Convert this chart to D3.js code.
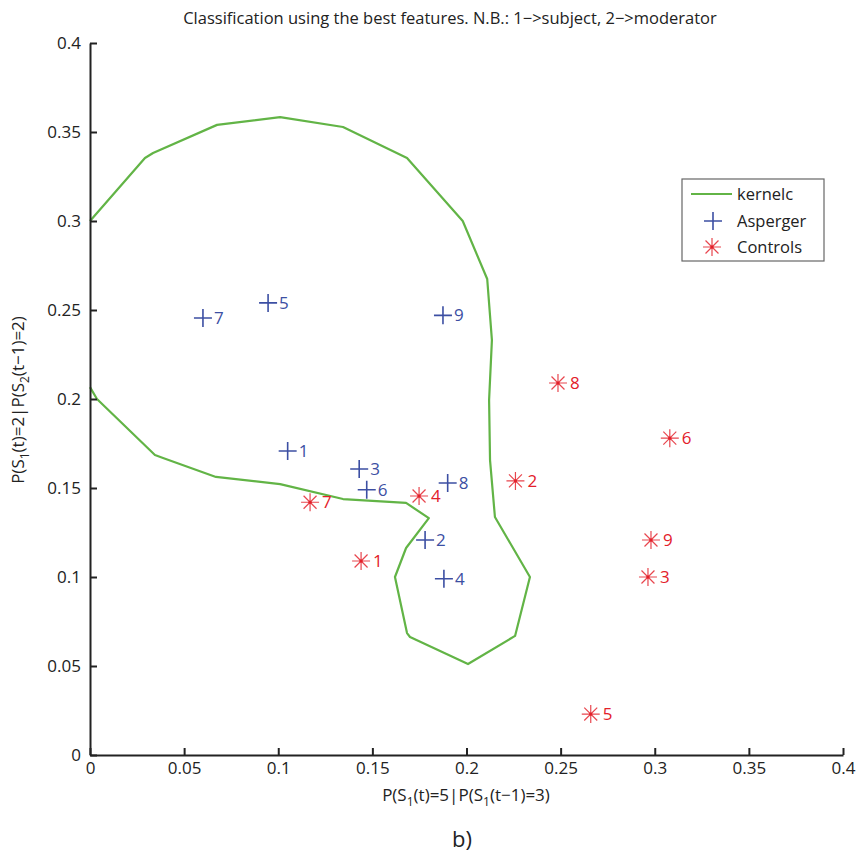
<!DOCTYPE html>
<html>
<head>
<meta charset="utf-8">
<script src="https://cdn.jsdelivr.net/npm/d3@7"></script>
<style>
  body { margin: 0; background: #fff; }
  svg text { font-family: "Open Sans", "DejaVu Sans", sans-serif; }
</style>
</head>
<body>
<div class="plot"></div>
<script>
// data
let xTicks = [0, 0.05, 0.1, 0.15, 0.2, 0.25, 0.3, 0.35, 0.4];
let yTicks = [0, 0.05, 0.1, 0.15, 0.2, 0.25, 0.3, 0.35, 0.4];

let aspergerIds = [1, 2, 3, 4, 5, 6, 7, 8, 9];
let aspergerX = [0.105, 0.178, 0.143, 0.188, 0.0946, 0.147, 0.06, 0.19, 0.1875];
let aspergerY = [0.1708, 0.1208, 0.1607, 0.099, 0.254, 0.149, 0.2455, 0.1528, 0.247];

let controlIds = [1, 2, 3, 4, 5, 6, 7, 8, 9];
let controlX = [0.144, 0.226, 0.2964, 0.1748, 0.266, 0.308, 0.1169, 0.2486, 0.298];
let controlY = [0.109, 0.154, 0.1, 0.1455, 0.023, 0.178, 0.142, 0.209, 0.1208];

// kernel classifier boundary (contour, clipped at x=0)
let kernelX = [0, 0.0292, 0.0335, 0.0675, 0.101, 0.1344, 0.1684, 0.198, 0.211, 0.2135,
               0.212, 0.2125, 0.2151, 0.2337, 0.2258, 0.2008, 0.170, 0.1684, 0.162, 0.1679,
               0.180, 0.1679, 0.1344, 0.101, 0.0669, 0.0388, 0.0345, 0.0037, 0];
let kernelY = [0.300, 0.3354, 0.3382, 0.354, 0.3584, 0.3528, 0.3354, 0.300, 0.2674, 0.2331,
               0.1994, 0.1657, 0.1337, 0.100, 0.0669, 0.0511, 0.0663, 0.0685, 0.100, 0.1163,
               0.1331, 0.1416, 0.1438, 0.1522, 0.1562, 0.1669, 0.1685, 0.200, 0.2067];

let width = 860, height = 860;
let plotLeft = 90, plotRight = 843, plotTop = 43, plotBottom = 755;
let GREEN = "#62b446", BLUE = "#3c4fa3", RED_MARK = "#e8464e", RED_TEXT = "#e3202a";

let xScale = d3.scaleLinear().domain([0, 0.4]).range([plotLeft, plotRight]);
let yScale = d3.scaleLinear().domain([0, 0.4]).range([plotBottom, plotTop]);

let svg = d3.select(".plot").append("svg")
    .attr("width", width)
    .attr("height", height);

function fmt(d) { return String(+d.toFixed(2)); }

function renderAxes() {
    let xAxis = d3.axisBottom(xScale).tickValues(xTicks).tickSize(-7).tickSizeOuter(0)
        .tickPadding(7).tickFormat(fmt);
    let gx = svg.append("g").attr("transform", "translate(0," + plotBottom + ")").call(xAxis);

    let yAxis = d3.axisLeft(yScale).tickValues(yTicks).tickSize(-7).tickSizeOuter(0)
        .tickPadding(9).tickFormat(fmt);
    let gy = svg.append("g").attr("transform", "translate(" + plotLeft + ",0)").call(yAxis);

    [gx, gy].forEach(g => {
        g.select(".domain").attr("stroke", "#222").attr("stroke-width", 2);
        g.selectAll(".tick line").attr("stroke", "#222").attr("stroke-width", 2);
        g.selectAll(".tick text").attr("fill", "#222").style("font-size", "17px");
    });
}

// text with subscript pieces: parts = [[text, isSub], ...]
function richText(g, parts) {
    let prevSub = false;
    parts.forEach(p => {
        let t = g.append("tspan").text(p[0]);
        if (p[1]) t.attr("dy", 5).style("font-size", "12px");
        else if (prevSub) t.attr("dy", -5);
        prevSub = p[1];
    });
}

function renderLabels() {
    svg.append("text")
        .attr("x", 450).attr("y", 24)
        .attr("text-anchor", "middle")
        .style("font-size", "16.5px")
        .attr("fill", "#222")
        .text("Classification using the best features. N.B.: 1\u2212>subject, 2\u2212>moderator");

    let xl = svg.append("text")
        .attr("x", 466).attr("y", 801)
        .attr("text-anchor", "middle")
        .style("font-size", "17px")
        .attr("fill", "#222");
    richText(xl, [["P(S", 0], ["1", 1], ["(t)=5|P(S", 0], ["1", 1], ["(t\u22121)=3)", 0]]);

    let yl = svg.append("text")
        .attr("transform", "translate(24,400) rotate(-90)")
        .attr("text-anchor", "middle")
        .style("font-size", "17px")
        .attr("fill", "#222");
    richText(yl, [["P(S", 0], ["1", 1], ["(t)=2|P(S", 0], ["2", 1], ["(t\u22121)=2)", 0]]);

    svg.append("text")
        .attr("x", 462).attr("y", 847)
        .attr("text-anchor", "middle")
        .style("font-size", "22px")
        .attr("fill", "#222")
        .text("b)");
}

function drawPlus(g, cx, cy, r) {
    g.append("path")
        .attr("d", `M${cx - r},${cy}H${cx + r}M${cx},${cy - r}V${cy + r}`)
        .attr("stroke", BLUE).attr("stroke-width", 1.6).attr("fill", "none");
}

function drawStar(g, cx, cy, r) {
    let d = r * 0.72;
    g.append("path")
        .attr("d", `M${cx - r},${cy}H${cx + r}M${cx},${cy - r}V${cy + r}` +
                   `M${cx - d},${cy - d}L${cx + d},${cy + d}M${cx - d},${cy + d}L${cx + d},${cy - d}`)
        .attr("stroke", RED_MARK).attr("stroke-width", 1.2).attr("fill", "none");
    g.append("circle").attr("cx", cx).attr("cy", cy).attr("r", 1.6).attr("fill", RED_TEXT);
}

function renderData() {
    let line = d3.line().x(d => xScale(d[0])).y(d => yScale(d[1]));
    let pts = kernelX.map((x, i) => [x, kernelY[i]]);
    svg.append("path")
        .attr("d", line(pts))
        .attr("fill", "none")
        .attr("stroke", GREEN)
        .attr("stroke-width", 2.2)
        .attr("stroke-linejoin", "round");

    let ga = svg.append("g").attr("class", "asperger");
    aspergerIds.forEach((id, i) => {
        let cx = xScale(aspergerX[i]), cy = yScale(aspergerY[i]);
        drawPlus(ga, cx, cy, 9);
        ga.append("text").attr("x", cx + 11).attr("y", cy + 6)
            .style("font-size", "17px").attr("fill", BLUE).text(id);
    });

    let gc = svg.append("g").attr("class", "controls");
    controlIds.forEach((id, i) => {
        let cx = xScale(controlX[i]), cy = yScale(controlY[i]);
        drawStar(gc, cx, cy, 9);
        gc.append("text").attr("x", cx + 12).attr("y", cy + 6)
            .style("font-size", "17px").attr("fill", RED_TEXT).text(id);
    });
}

function renderLegend() {
    let g = svg.append("g").attr("class", "legend");
    g.append("rect")
        .attr("x", 682).attr("y", 179).attr("width", 142).attr("height", 82)
        .attr("fill", "#fff").attr("stroke", "#666").attr("stroke-width", 1.2);
    g.append("line").attr("x1", 691).attr("x2", 732).attr("y1", 194).attr("y2", 194)
        .attr("stroke", GREEN).attr("stroke-width", 2);
    drawPlus(g, 713, 221, 9);
    drawStar(g, 712, 247, 9);
    let labels = ["kernelc", "Asperger", "Controls"];
    labels.forEach((t, i) => {
        g.append("text").attr("x", 737).attr("y", 200 + i * 26.5)
            .style("font-size", "16.5px").attr("fill", "#222").text(t);
    });
}

renderData();
renderAxes();
renderLabels();
renderLegend();
</script>
</body>
</html>
